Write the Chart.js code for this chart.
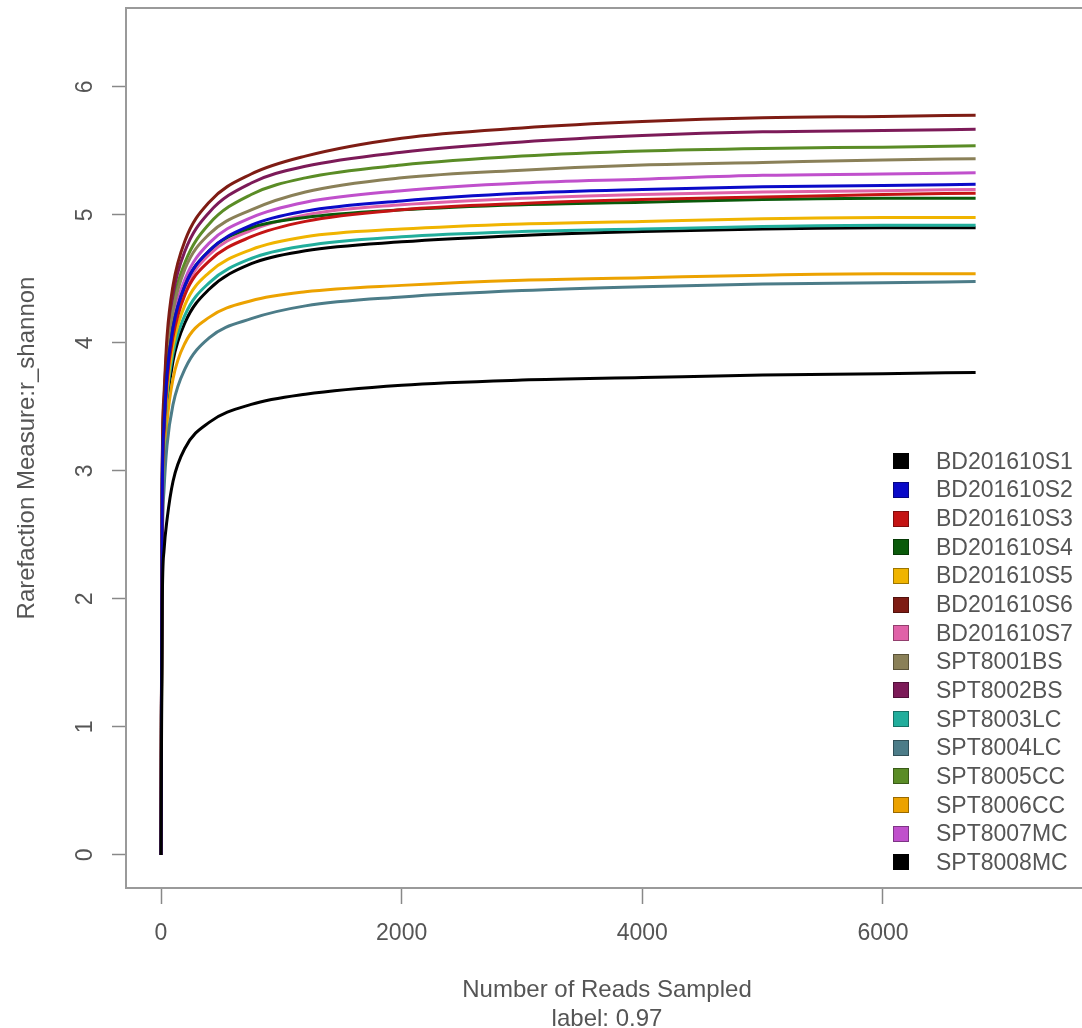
<!DOCTYPE html>
<html>
<head>
<meta charset="utf-8">
<script src="https://cdn.jsdelivr.net/npm/chart.js@4/dist/chart.umd.min.js"></script>
<style>
  html,body{margin:0;padding:0;background:#fff;overflow:hidden;}
  #wrap{position:relative;width:1090px;height:1034px;}
  #legend{position:absolute;left:889px;top:447px;font-family:"Liberation Sans",Arial,sans-serif;font-size:23px;color:#555;}
  .row{height:28.65px;display:flex;align-items:center;white-space:nowrap;}
  .sw{width:16px;height:16px;margin-left:4px;margin-right:27px;box-sizing:border-box;border:1px solid rgba(0,0,0,.35);}
</style>
</head>
<body>
<div id="wrap">
  <canvas id="c" width="1090" height="1034"></canvas>
  <div id="legend"></div>
</div>
<script>
// reads sampled (x) and r_shannon values per sample (y)
const readsSampled = [0, 10, 25, 50, 100, 200, 400, 750, 1200, 2000, 3000, 4000, 5000, 6000, 6770];

const BD201610S1 = [0, 1.95, 2.38, 2.62, 2.92, 3.18, 3.38, 3.52, 3.60, 3.67, 3.71, 3.73, 3.75, 3.76, 3.77];
const BD201610S2 = [0, 2.80, 3.35, 3.75, 4.12, 4.45, 4.72, 4.92, 5.03, 5.11, 5.17, 5.20, 5.22, 5.23, 5.24];
const BD201610S3 = [0, 2.75, 3.30, 3.70, 4.05, 4.38, 4.64, 4.83, 4.95, 5.04, 5.09, 5.12, 5.14, 5.16, 5.17];
const BD201610S4 = [0, 2.80, 3.35, 3.75, 4.12, 4.45, 4.72, 4.90, 4.98, 5.04, 5.08, 5.10, 5.12, 5.13, 5.13];
const BD201610S5 = [0, 2.70, 3.25, 3.63, 3.98, 4.30, 4.55, 4.73, 4.83, 4.89, 4.93, 4.95, 4.97, 4.98, 4.98];
const BD201610S6 = [0, 3.00, 3.60, 4.05, 4.45, 4.80, 5.10, 5.32, 5.46, 5.60, 5.68, 5.73, 5.76, 5.77, 5.78];
const BD201610S7 = [0, 2.80, 3.35, 3.75, 4.10, 4.42, 4.69, 4.88, 5.00, 5.08, 5.13, 5.16, 5.18, 5.19, 5.20];
const SPT8001BS  = [0, 2.90, 3.48, 3.88, 4.25, 4.58, 4.85, 5.04, 5.18, 5.29, 5.35, 5.39, 5.41, 5.43, 5.44];
const SPT8002BS  = [0, 2.95, 3.55, 3.98, 4.38, 4.72, 5.02, 5.25, 5.38, 5.49, 5.57, 5.62, 5.65, 5.66, 5.67];
const SPT8003LC  = [0, 2.65, 3.20, 3.58, 3.92, 4.22, 4.47, 4.66, 4.76, 4.83, 4.87, 4.89, 4.91, 4.92, 4.92];
const SPT8004LC  = [0, 2.30, 2.85, 3.20, 3.52, 3.80, 4.04, 4.19, 4.29, 4.36, 4.41, 4.44, 4.46, 4.47, 4.48];
const SPT8005CC  = [0, 2.90, 3.50, 3.92, 4.30, 4.63, 4.93, 5.16, 5.29, 5.39, 5.46, 5.50, 5.52, 5.53, 5.54];
const SPT8006CC  = [0, 2.45, 3.00, 3.38, 3.72, 4.00, 4.20, 4.33, 4.40, 4.45, 4.49, 4.51, 4.53, 4.54, 4.54];
const SPT8007MC  = [0, 2.85, 3.42, 3.82, 4.18, 4.50, 4.78, 4.98, 5.10, 5.19, 5.25, 5.28, 5.31, 5.32, 5.33];
const SPT8008MC  = [0, 2.60, 3.15, 3.52, 3.86, 4.16, 4.42, 4.62, 4.72, 4.79, 4.84, 4.87, 4.89, 4.90, 4.90];

const sampleNames = ['BD201610S1','BD201610S2','BD201610S3','BD201610S4','BD201610S5','BD201610S6','BD201610S7',
  'SPT8001BS','SPT8002BS','SPT8003LC','SPT8004LC','SPT8005CC','SPT8006CC','SPT8007MC','SPT8008MC'];
const sampleValues = [BD201610S1,BD201610S2,BD201610S3,BD201610S4,BD201610S5,BD201610S6,BD201610S7,
  SPT8001BS,SPT8002BS,SPT8003LC,SPT8004LC,SPT8005CC,SPT8006CC,SPT8007MC,SPT8008MC];

const xTicks = [0, 2000, 4000, 6000];
const yTicks = [0, 1, 2, 3, 4, 5, 6];

// styles
const lineColors = ['#000000','#0a0ac8','#c41414','#0a5a0a','#f0b400','#7e1c14','#e062a8',
  '#8a8058','#7c1a58','#22ae9c','#4c7c88','#5a8c26','#eca200','#c050cc','#000000'];
const textGray = '#555';
const fontFam = '"Liberation Sans", Arial, sans-serif';

const datasets = sampleNames.map((n,i)=>({
  label:n,
  data: readsSampled.map((x,j)=>({x, y: sampleValues[i][j]})),
  borderColor: lineColors[i],
  backgroundColor: lineColors[i],
  borderWidth: 3,
  pointRadius: 0,
  fill: false,
  cubicInterpolationMode: 'monotone'
}));

const boxPlugin = {
  id:'box',
  afterDraw(chart){
    const {ctx, chartArea:a, scales:{y}} = chart;
    ctx.save();
    ctx.strokeStyle = '#9a9a9a'; ctx.lineWidth = 2;
    ctx.strokeRect(a.left, a.top, a.right - a.left, a.bottom - a.top);
    // y tick labels, rotated like R's default axis labels
    ctx.fillStyle = textGray;
    ctx.font = '23px ' + fontFam;
    ctx.textAlign = 'center'; ctx.textBaseline = 'middle';
    y.ticks.forEach(t=>{
      const py = y.getPixelForValue(t.value);
      ctx.save(); ctx.translate(86, py); ctx.rotate(-Math.PI/2);
      ctx.fillText(String(t.value), 0, 0);
      ctx.restore();
    });
    ctx.restore();
  }
};

const chart = new Chart(document.getElementById('c').getContext('2d'), {
  type:'line',
  data:{datasets},
  options:{
    responsive:false,
    animation:false,
    devicePixelRatio:1,
    layout:{padding:{top:8, right:2, left:0, bottom:0}},
    plugins:{legend:{display:false}, tooltip:{enabled:false}},
    scales:{
      x:{
        type:'linear', min:-291, max:7704,
        afterBuildTicks: s=>{ s.ticks = xTicks.map(v=>({value:v})); },
        afterFit: s=>{ s.height = 146; },
        grid:{drawOnChartArea:false, drawTicks:true, tickLength:16, tickColor:'#888', tickWidth:1.5},
        border:{display:false},
        ticks:{color:textGray, font:{family:fontFam, size:23}, padding:16, maxRotation:0, autoSkip:false,
               callback: v=>String(v)},
        title:{display:true, text:['Number of Reads Sampled','label: 0.97'], color:textGray,
               font:{family:fontFam, size:24, lineHeight:1.2}, padding:{top:0, bottom:0}}
      },
      y:{
        type:'linear', min:-0.258, max:6.617,
        afterBuildTicks: s=>{ s.ticks = yTicks.map(v=>({value:v})); },
        afterFit: s=>{ s.width = 126; },
        grid:{drawOnChartArea:false, drawTicks:true, tickLength:14, tickColor:'#888', tickWidth:1.5},
        border:{display:false},
        ticks:{display:false},
        title:{display:true, text:'Rarefaction Measure:r_shannon', color:textGray,
               font:{family:fontFam, size:24, lineHeight:1.2}, padding:{top:13, bottom:0}}
      }
    }
  },
  plugins:[boxPlugin]
});

// legend built from the chart's datasets
const lg = document.getElementById('legend');
chart.data.datasets.forEach(d=>{
  const r = document.createElement('div'); r.className='row';
  const sw = document.createElement('span'); sw.className='sw'; sw.style.background = d.borderColor;
  const tx = document.createElement('span'); tx.textContent = d.label;
  r.appendChild(sw); r.appendChild(tx); lg.appendChild(r);
});
</script>
</body>
</html>
